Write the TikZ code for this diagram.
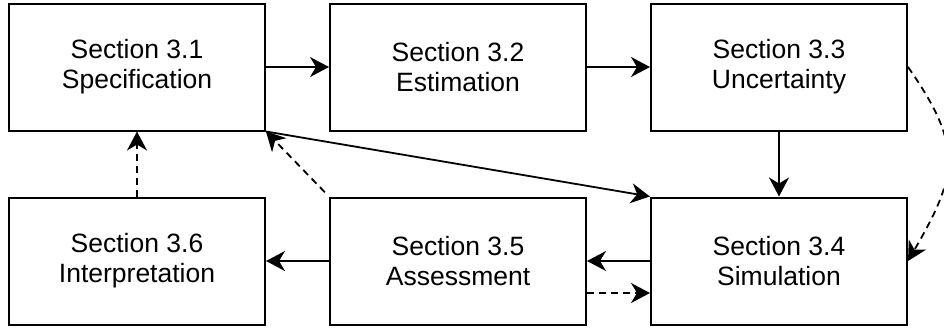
\documentclass[tikz,border=0pt]{standalone}
\usepackage{fontspec}
\setmainfont{Liberation Sans}
\usetikzlibrary{positioning,arrows.meta}

\begin{document}
\begin{tikzpicture}[node distance=65pt and 63pt, every node/.style={font=\fontsize{26.5}{30}\selectfont},
  sect/.style={rectangle, draw, line width=2pt, minimum width=256pt, minimum height=127pt, align=center},
  conn/.style={-{Stealth[length=19pt,width=20pt,inset=6pt]}, line width=1.8pt},
  dsh/.style={conn, dash pattern=on 7pt off 5pt}]
\useasboundingbox (0,0) rectangle (944pt,-327pt);
\node[sect] at (137pt,-67pt) (spec) {Section 3.1\\Specification};
\node[sect, right=of spec] (est) {Section 3.2\\Estimation};
\node[sect, right=of est] (unc) {Section 3.3\\Uncertainty};
\node[sect, below=of unc] (sim) {Section 3.4\\Simulation};
\node[sect, left=of sim] (assess) {Section 3.5\\Assessment};
\node[sect, left=of assess] (interp) {Section 3.6\\Interpretation};

\draw[conn] (spec) -- (est);
\draw[conn] (est) -- (unc);
\draw[conn] (unc) -- (sim);
\draw[conn] (sim) -- (assess);
\draw[conn] (assess) -- (interp);
\draw[conn] (spec.south east) -- (sim.north west);
\draw[dsh] ([yshift=-32pt]assess.east) -- ([yshift=-32pt]sim.west);
\draw[dsh, shorten <=6pt] (assess.north west) -- (spec.south east);
\draw[dsh] (interp) -- (spec);
\draw[dsh] (unc.east) to[out=-55, in=60, looseness=1.3] (sim.east);
\end{tikzpicture}
\end{document}
